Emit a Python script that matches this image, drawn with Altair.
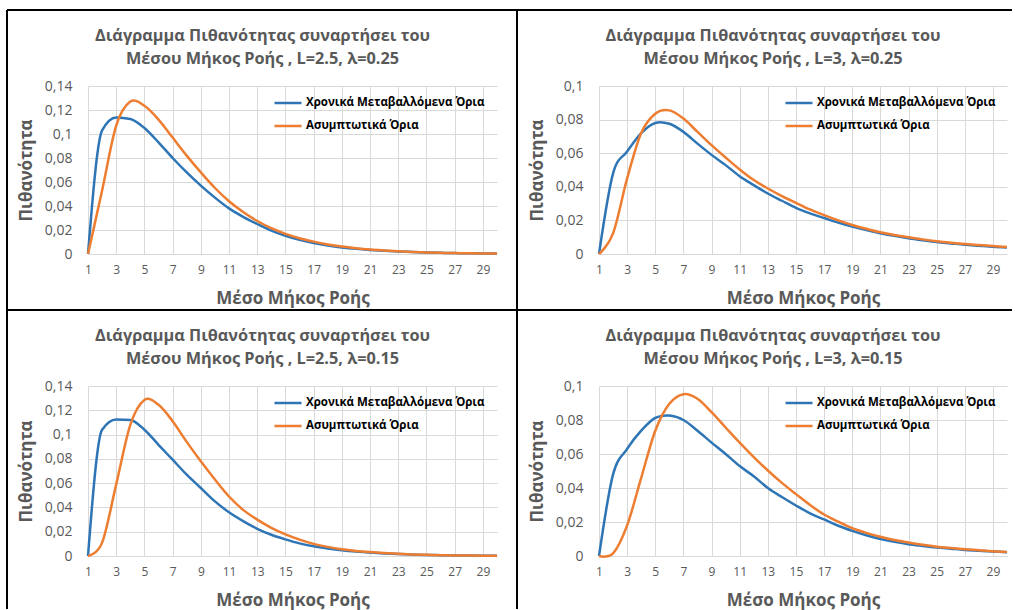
import altair as alt
import pandas as pd

FONT = "Open Sans"
GRAY = "#595959"
BLUE = "#2E75B6"
ORANGE = "#ED7D31"
SERIES = ["Χρονικά Μεταβαλλόμενα Όρια", "Ασυμπτωτικά Όρια"]
X_VALUES = list(range(1, 31))
X_TICKS = list(range(1, 30, 2))
Y_TICKS_014 = [0, 0.02, 0.04, 0.06, 0.08, 0.1, 0.12, 0.14]
Y_TICKS_01 = [0, 0.02, 0.04, 0.06, 0.08, 0.1]

TITLE_1 = "Διάγραμμα Πιθανότητας συναρτήσει του"
TITLES_2 = [
    "Μέσου Μήκος Ροής , L=2.5, λ=0.25",
    "Μέσου Μήκος Ροής , L=3, λ=0.25",
    "Μέσου Μήκος Ροής , L=2.5, λ=0.15",
    "Μέσου Μήκος Ροής , L=3, λ=0.15",
]

# L=2.5, lambda=0.25
tl_blue = [0, 0.103, 0.1138, 0.1125, 0.105, 0.093, 0.080, 0.068, 0.057, 0.047,
           0.038, 0.031, 0.025, 0.0195, 0.0152, 0.0118, 0.0092, 0.0071, 0.0055, 0.0043,
           0.0034, 0.0027, 0.0021, 0.0017, 0.0013, 0.0010, 0.0008, 0.0006, 0.0005, 0.0004]
tl_orange = [0, 0.053, 0.107, 0.127, 0.1235, 0.112, 0.097, 0.082, 0.068, 0.055,
             0.044, 0.035, 0.0275, 0.0215, 0.0168, 0.0131, 0.0103, 0.0080, 0.0062, 0.0048,
             0.0037, 0.0029, 0.0022, 0.0017, 0.0013, 0.0010, 0.0008, 0.0006, 0.0005, 0.0004]
# L=3, lambda=0.25
tr_blue = [0, 0.048, 0.061, 0.072, 0.078, 0.0775, 0.0727, 0.0657, 0.059, 0.0529,
           0.0463, 0.041, 0.036, 0.0317, 0.0275, 0.0242, 0.0214, 0.0187, 0.0163, 0.0142,
           0.0124, 0.0108, 0.0094, 0.0082, 0.0071, 0.0063, 0.0055, 0.0049, 0.0043, 0.0039]
tr_orange = [0, 0.0123, 0.045, 0.072, 0.0835, 0.0855, 0.0806, 0.0727, 0.0648, 0.0574,
             0.0503, 0.044, 0.039, 0.0345, 0.0305, 0.0265, 0.0231, 0.0200, 0.0173, 0.0150,
             0.0129, 0.0113, 0.0100, 0.0087, 0.0076, 0.0067, 0.0059, 0.0053, 0.0047, 0.0041]
# L=2.5, lambda=0.15
bl_blue = [0, 0.104, 0.1125, 0.112, 0.104, 0.0916, 0.0793, 0.067, 0.056, 0.045,
           0.036, 0.0287, 0.0224, 0.0175, 0.0137, 0.0104, 0.0080, 0.0062, 0.0047, 0.0036,
           0.0028, 0.0021, 0.0016, 0.0012, 0.0009, 0.0007, 0.0005, 0.0004, 0.0003, 0.0002]
bl_orange = [0, 0.011, 0.059, 0.108, 0.1285, 0.1245, 0.111, 0.094, 0.078, 0.063,
             0.049, 0.038, 0.030, 0.0232, 0.0178, 0.0135, 0.0100, 0.0075, 0.0056, 0.0042,
             0.0032, 0.0024, 0.0018, 0.0013, 0.0010, 0.0007, 0.0005, 0.0004, 0.0003, 0.0002]
# L=3, lambda=0.15
br_blue = [0, 0.048, 0.063, 0.0737, 0.0812, 0.0826, 0.080, 0.0737, 0.0667, 0.060,
           0.0529, 0.0469, 0.040, 0.0347, 0.0297, 0.0251, 0.0215, 0.0178, 0.0148, 0.0122,
           0.0100, 0.0083, 0.0069, 0.0059, 0.0050, 0.0043, 0.0036, 0.0031, 0.0026, 0.0022]
br_orange = [0, 0.0015, 0.018, 0.046, 0.0737, 0.0895, 0.0952, 0.0925, 0.0846, 0.0756,
             0.0667, 0.0582, 0.0503, 0.043, 0.0364, 0.030, 0.0244, 0.0202, 0.0164, 0.0136,
             0.0113, 0.0094, 0.0079, 0.0066, 0.0055, 0.0047, 0.0040, 0.0034, 0.0028, 0.0024]


def panel(title2, blue, orange, ymax, yticks, w, h, edge, blue_interp):
    df = pd.DataFrame({
        "x": X_VALUES * 2,
        "p": blue + orange,
        "s": [SERIES[0]] * len(blue) + [SERIES[1]] * len(orange),
    })
    enc = dict(
        x=alt.X("x:Q",
                scale=alt.Scale(domain=[1, 30], nice=False, zero=False),
                axis=alt.Axis(values=X_TICKS, title="Μέσο Μήκος Ροής", grid=True,
                              gridColor="#D9D9D9", domainColor="#D9D9D9", ticks=False,
                              tickSize=0, labelPadding=10, labelFontSize=12,
                              labelColor=GRAY, labelFont=FONT, labelFlush=False,
                              titleFont=FONT, titleFontSize=17, titleFontWeight="bold",
                              titleColor=GRAY, titlePadding=15)),
        y=alt.Y("p:Q",
                scale=alt.Scale(domain=[0, ymax], nice=False),
                axis=alt.Axis(values=yticks,
                              labelExpr="replace(format(datum.value, '.2~f'), '.', ',')",
                              title="Πιθανότητα", grid=True, gridColor="#D9D9D9",
                              domain=False, ticks=False, tickSize=0, labelPadding=16,
                              labelFontSize=14, labelColor=GRAY, labelFont=FONT,
                              labelFlush=False, titleFont=FONT, titleFontSize=17,
                              titleFontWeight="bold", titleColor=GRAY, titlePadding=9)),
        color=alt.Color("s:N",
                        scale=alt.Scale(domain=SERIES, range=[BLUE, ORANGE]),
                        legend=alt.Legend(title=None, orient="none", legendX=185,
                                          legendY=2, symbolType="stroke",
                                          symbolStrokeWidth=2.5, symbolSize=729,
                                          labelFont=FONT, labelFontSize=11.5,
                                          labelFontWeight="bold", labelColor="black",
                                          labelOffset=3, rowPadding=2, labelLimit=400)),
    )
    base = alt.Chart(df)
    blue_line = base.transform_filter(alt.datum.s == SERIES[0]).mark_line(
        interpolate=blue_interp, strokeWidth=2.5).encode(**enc)
    orange_line = base.transform_filter(alt.datum.s == SERIES[1]).mark_line(
        interpolate="cardinal", strokeWidth=2.5).encode(**enc)
    # decorative chart-area border (left and top edges only, as in the reference)
    one = alt.Data(values=[{}])
    top_edge = alt.Chart(one).mark_rule(stroke="black", strokeWidth=2).encode(
        x=alt.value(edge[0]), x2=alt.value(edge[1]), y=alt.value(edge[2]))
    left_edge = alt.Chart(one).mark_rule(stroke="black", strokeWidth=2).encode(
        x=alt.value(edge[0]), y=alt.value(edge[2]), y2=alt.value(edge[3]))
    return alt.layer(top_edge, left_edge, blue_line, orange_line).properties(
        width=w, height=h,
        title=alt.TitleParams(text=[TITLE_1, title2], font=FONT, fontSize=16.3,
                              fontWeight="bold", color=GRAY, anchor="middle",
                              dx=-30, offset=-58, lineHeight=23),
    )


p1 = panel(TITLES_2[0], tl_blue, tl_orange, 0.14, Y_TICKS_014, 409, 168, (-81, 430, -76, 225), "monotone")
p2 = panel(TITLES_2[1], tr_blue, tr_orange, 0.1, Y_TICKS_01, 408, 168, (-82, 413, -76, 225), "cardinal")
p3 = panel(TITLES_2[2], bl_blue, bl_orange, 0.14, Y_TICKS_014, 409, 170, (-81, 430, -76, 223), "monotone")
p4 = panel(TITLES_2[3], br_blue, br_orange, 0.1, Y_TICKS_01, 408, 170, (-82, 413, -76, 223), "cardinal")

res = dict(x="independent", y="independent", color="independent")
chart = alt.concat(
    p1, p2, p3, p4, columns=2, bounds="flush",
    spacing={"row": 132, "column": 102},
).resolve_scale(**res).resolve_legend(color="independent").properties(
    padding={"left": 6, "top": 9, "right": 0, "bottom": 0},
    background="white",
).configure_view(strokeWidth=0)

chart.save("out.html", embed_options={"renderer": "svg", "actions": False})
